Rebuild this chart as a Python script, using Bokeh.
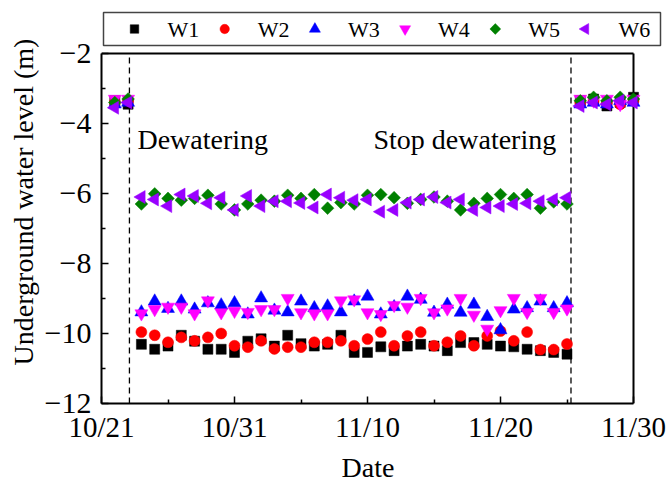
import numpy as np
from bokeh.plotting import figure
from bokeh.core.properties import value
from bokeh.models import Range1d, FixedTicker, Label, Title
from bokeh.embed import file_html
from bokeh.resources import INLINE

# ---------------- data (day index: 0 = 10/21) ----------------
days = [1, 2] + list(range(3, 36)) + [36, 37, 38, 39, 40]

w1 = [-3.35, -3.45,
      -10.31, -10.45, -10.36, -10.05, -10.22, -10.45, -10.45, -10.54, -10.22, -10.15,
      -10.36, -10.05, -10.29, -10.36, -10.31, -10.05, -10.54, -10.54, -10.38, -10.49,
      -10.36, -10.31, -10.36, -10.49, -10.26, -10.26, -10.31, -10.36, -10.38, -10.45,
      -10.49, -10.54, -10.59,
      -3.35, -3.30, -3.50, -3.40, -3.25]
w2 = [-3.40, -3.35,
      -9.96, -10.05, -10.25, -10.11, -10.21, -10.11, -10.00, -10.35, -10.39, -10.21,
      -10.44, -10.39, -10.39, -10.25, -10.25, -10.21, -10.35, -10.16, -9.96, -10.35,
      -10.07, -9.96, -10.35, -10.25, -10.07, -10.35, -10.07, -9.93, -10.21, -9.96,
      -10.46, -10.46, -10.30,
      -3.40, -3.35, -3.40, -3.45, -3.35]
w3 = [-3.45, -3.40,
      -9.39, -9.08, -9.29, -9.08, -9.31, -9.13, -9.19, -9.13, -9.45, -8.99,
      -9.34, -9.39, -9.08, -9.27, -9.22, -9.39, -9.08, -8.94, -9.45, -9.24,
      -8.94, -9.03, -9.40, -9.17, -9.40, -9.17, -9.52, -9.90, -9.31, -9.27,
      -9.08, -9.27, -9.13,
      -3.45, -3.40, -3.45, -3.35, -3.40]
w4 = [-3.30, -3.30,
      -9.43, -9.31, -9.24, -9.24, -9.43, -9.06, -9.40, -9.36, -9.39, -9.31,
      -9.31, -8.99, -9.40, -9.43, -9.43, -9.06, -9.03, -9.40, -9.45, -9.19,
      -9.24, -8.99, -9.40, -9.29, -8.99, -9.47, -9.87, -9.34, -8.99, -9.39,
      -8.99, -9.39, -9.29,
      -3.30, -3.35, -3.30, -3.45, -3.30]
w5 = [-3.40, -3.30,
      -6.30, -6.01, -6.14, -6.19, -6.14, -6.05, -6.30, -6.47, -6.30, -6.19,
      -6.22, -6.05, -6.14, -6.03, -6.42, -6.26, -6.30, -6.05, -6.03, -6.12,
      -6.28, -6.17, -6.10, -6.22, -6.47, -6.28, -6.14, -6.03, -6.14, -6.03,
      -6.42, -6.24, -6.30,
      -3.35, -3.25, -3.35, -3.25, -3.30]
w6 = [-3.55, -3.40,
      -6.10, -6.17, -6.36, -6.03, -6.07, -6.28, -6.12, -6.47, -6.07, -6.36,
      -6.22, -6.22, -6.27, -6.40, -6.03, -6.12, -6.19, -6.17, -6.52, -6.47,
      -6.26, -6.17, -6.10, -6.26, -6.17, -6.47, -6.40, -6.36, -6.30, -6.28,
      -6.22, -6.17, -6.12,
      -3.50, -3.40, -3.45, -3.35, -3.40]

x_ticks = [0, 10, 20, 30, 40]
x_tick_labels = ["10/21", "10/31", "11/10", "11/20", "11/30"]
y_ticks = [-12, -10, -8, -6, -4, -2]
y_tick_labels = ["\u221212", "\u221210", "\u22128", "\u22126", "\u22124", "\u22122"]
x_min, x_max = 0, 40
y_min, y_max = -12, -2

dewater_start = 2.1
dewater_stop = 35.3

FONT = "Liberation Serif"

series = [
    ("W1", w1, "square", "black", 10, 0.0),
    ("W2", w2, "circle", "#ff0000", 11, 0.0),
    ("W3", w3, "triangle", "#0000ff", 13, 0.0),
    ("W4", w4, "inverted_triangle", "#ff00ff", 13, 0.0),
    ("W5", w5, "square", "#008000", 9, np.pi / 4),
    ("W6", w6, "triangle", "#9900ff", 13, np.pi / 2),
]

# ---------------- layout geometry (canvas pixels) ----------------
W, H = 670, 489
FL, FR, FB = 101, 662, 403          # frame left / right / bottom (frame top = 0)
AX_R, AX_T = 633, 53                # right and top edges of the drawn box
px_per_day = (AX_R - FL) / (x_max - x_min)
px_per_m = (FB - AX_T) / (y_max - y_min)

p = figure(width=W, height=H, output_backend="svg", toolbar_location=None,
           x_range=Range1d(x_min, x_max + (FR - AX_R) / px_per_day),
           y_range=Range1d(y_min, y_max + AX_T / px_per_m),
           min_border_left=FL, min_border_right=W - FR, min_border_top=0,
           min_border_bottom=H - FB)
p.extra_x_ranges = {"px": Range1d(FL, FR)}
p.extra_y_ranges = {"py": Range1d(FB, 0)}
p.background_fill_color = "white"
p.border_fill_color = "white"
p.outline_line_color = None
p.xgrid.visible = False
p.ygrid.visible = False

p.xaxis.ticker = FixedTicker(ticks=x_ticks, minor_ticks=[5, 15, 25, 35])
p.xaxis.major_label_overrides = dict(zip(x_ticks, x_tick_labels))
p.xaxis.bounds = (x_min, x_max)
p.yaxis.ticker = FixedTicker(ticks=y_ticks, minor_ticks=[-11, -9, -7, -5, -3])
p.yaxis.major_label_overrides = dict(zip(y_ticks, y_tick_labels))
p.yaxis.bounds = (y_min, y_max)
p.yaxis.axis_label = "Underground water level (m)"

for ax in (p.xaxis, p.yaxis):
    ax.axis_line_width = 2
    ax.axis_line_color = "black"
    ax.major_tick_in = 7
    ax.major_tick_out = 0
    ax.minor_tick_in = 4
    ax.minor_tick_out = 0
    ax.major_tick_line_width = 1.5
    ax.minor_tick_line_width = 1.5
    ax.major_tick_line_color = "black"
    ax.minor_tick_line_color = "black"
    ax.major_label_text_font = FONT
    ax.major_label_text_color = "black"
    ax.axis_label_text_font = FONT
    ax.axis_label_text_font_size = "28px"
    ax.axis_label_text_font_style = "normal"
    ax.axis_label_text_color = "black"
p.xaxis.major_label_text_font_size = "29px"
p.yaxis.major_label_text_font_size = "30px"
p.xaxis.major_label_standoff = 7
p.yaxis.major_label_standoff = 10
p.yaxis.axis_label_standoff = 3

# x-axis title, centred under the drawn box
p.add_layout(Title(text="Date", align="left", offset=(AX_R - FL) / 2 - 26,
                   text_font=FONT, text_font_size="28px", text_font_style="normal",
                   text_color="black", standoff=9), "below")

# top and right edges of the box
p.segment(x0=[x_min, x_max], y0=[y_max, y_min], x1=[x_max, x_max], y1=[y_max, y_max],
          line_color="black", line_width=2)

# dashed event lines
p.segment(x0=[dewater_start, dewater_stop], y0=[y_min, y_min],
          x1=[dewater_start, dewater_stop], y1=[y_max, y_max],
          line_color="black", line_width=1.3, line_dash="6 4")

for name, vals, marker, color, size, ang in series:
    p.scatter(days, vals, marker=marker, size=size, angle=ang,
              fill_color=color, line_color=color, line_width=0.5)

p.add_layout(Label(x=2.7, y=-4.45, text="Dewatering", text_font=FONT,
                   text_font_size="28px", text_baseline="middle", text_color="black"))
p.add_layout(Label(x=20.45, y=-4.45, text="Stop dewatering", text_font=FONT,
                   text_font_size="28px", text_baseline="middle", text_color="black"))

# ---------------- legend (drawn in canvas-pixel coordinates) ----------------
LG_L, LG_R, LG_T, LG_B = 103, 660, 12, 45
LG_Y = (LG_T + LG_B) / 2
LG_X0, LG_STEP, LG_TXT = 134, 90.2, 33
p.quad(left=LG_L, right=LG_R, top=LG_T, bottom=LG_B, fill_color="white",
       line_color="#444444", line_width=1.5, x_range_name="px", y_range_name="py")
for i, (name, vals, marker, color, size, ang) in enumerate(series):
    gx = LG_X0 + LG_STEP * i
    p.scatter([gx], [LG_Y], marker=marker, size=size * 0.85, angle=ang,
              fill_color=color, line_color=color, line_width=0.5,
              x_range_name="px", y_range_name="py")
    p.text([gx + LG_TXT], [LG_Y], text=[name], text_font=value(FONT),
           text_font_size=value("22px"), text_baseline="middle", text_align="left",
           text_color="black", x_range_name="px", y_range_name="py")

open("out.html", "w").write(file_html(p, INLINE))
